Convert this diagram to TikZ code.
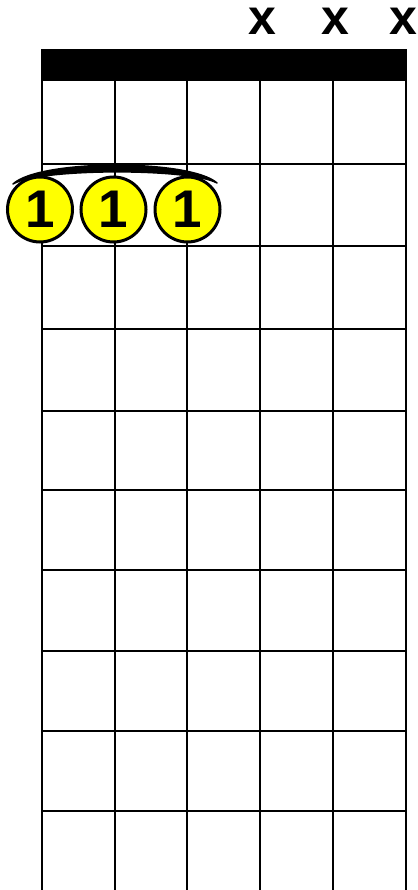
\documentclass[tikz,border=0pt]{standalone}
\usepackage{fontspec}
\setmainfont{Liberation Sans}[BoldFont={Liberation Sans Bold}]
\definecolor{dotyellow}{HTML}{FFFF00}
\begin{document}
\begin{tikzpicture}[x=1pt,y=-1pt,
  gridline/.style={line width=2.5pt,black},
  fingerdot/.style={circle,draw=black,line width=3pt,fill=dotyellow,minimum size=65pt,inner sep=0pt,font=\fontsize{53}{53}\selectfont\bfseries},
  mutemark/.style={font=\fontsize{50}{50}\selectfont\bfseries,inner sep=0pt,anchor=base}]
\useasboundingbox (0,0) rectangle (417,890);
% strings
\foreach \sx in {42,115,187,260,333,406}
  \draw[gridline] (\sx,81) -- (\sx,890);
% frets
\foreach \fy in {164,246,329,411,490,570,651,731,811}
  \draw[gridline] (42,\fy) -- (406,\fy);
% nut
\fill[black] (41,49) rectangle (406.5,81);
% mute marks
\node[mutemark] (m4) at (262,35) {x};
\node[mutemark] (m5) at (335,35) {x};
\node[mutemark] (m6) at (403.5,35) {x};
% barre arc
\fill[black,line join=round] (13,184) .. controls (40,159) and (190,159) .. (217,183)
   .. controls (190,168) and (40,168) .. (13,184) -- cycle;
\draw[black,line width=1.5pt,line join=round] (13,184) .. controls (40,159) and (190,159) .. (217,183)
   .. controls (190,168) and (40,168) .. (13,184) -- cycle;
% finger dots
\node[fingerdot] (f1) at (40,209.5) {1};
\node[fingerdot] (f2) at (113.5,209.5) {1};
\node[fingerdot] (f3) at (187.5,209.5) {1};
\end{tikzpicture}
\end{document}
